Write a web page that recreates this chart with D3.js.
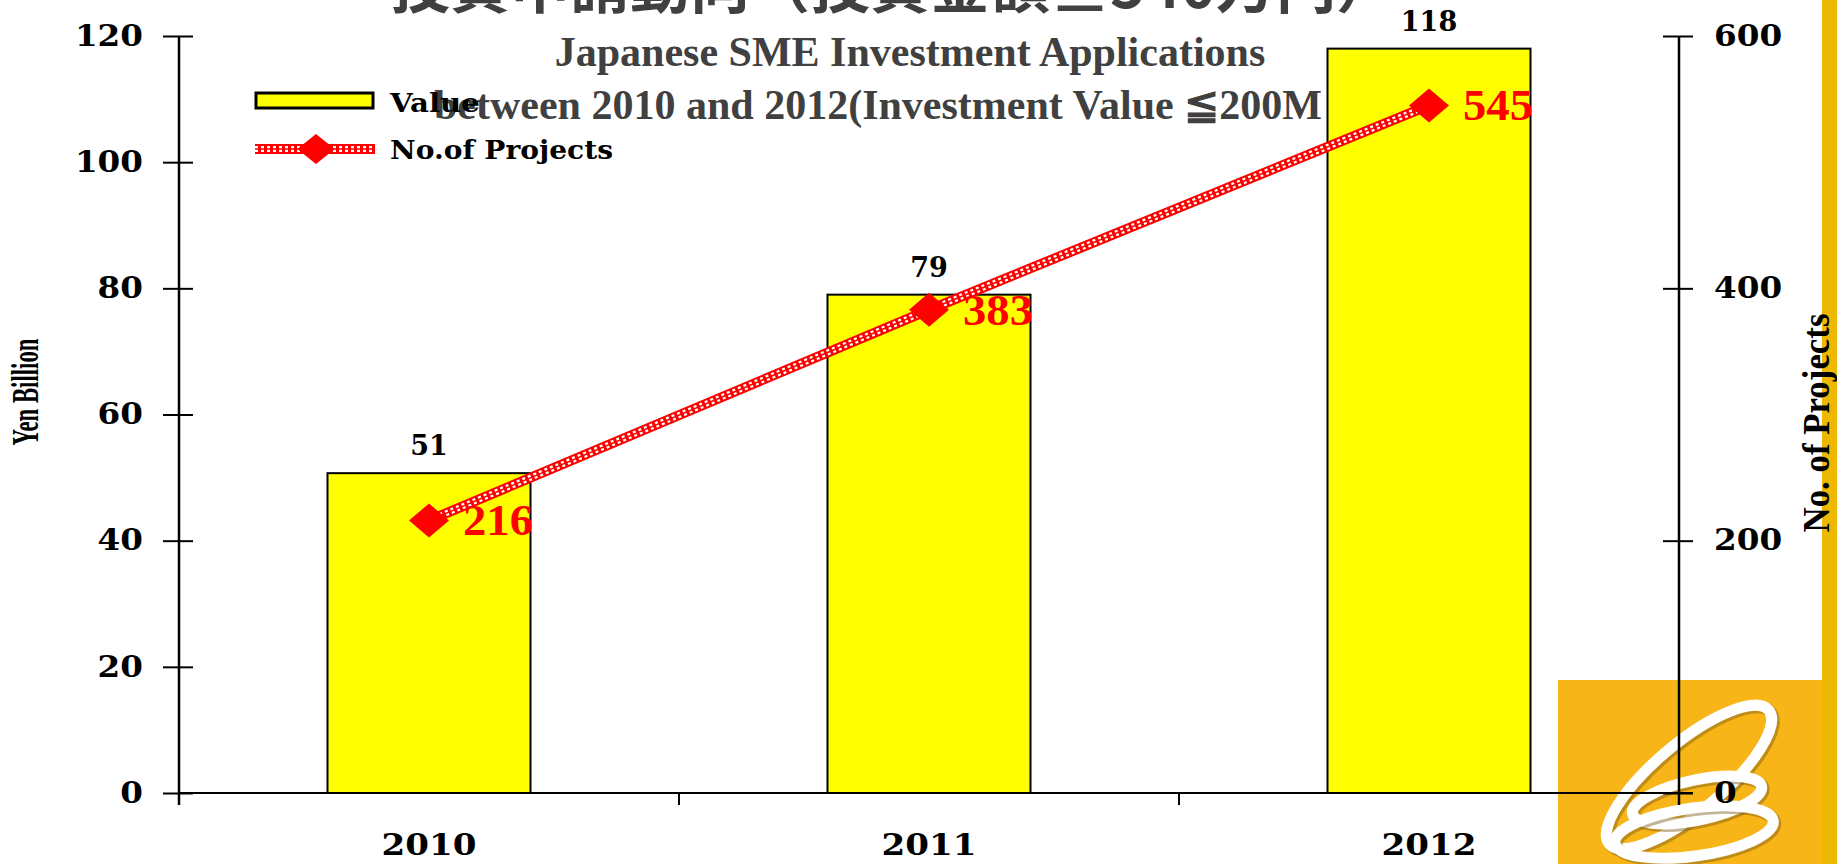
<!DOCTYPE html>
<html>
<head>
<meta charset="utf-8">
<script src="https://cdn.jsdelivr.net/npm/d3@7"></script>
<style>
  html, body { margin: 0; padding: 0; background: #fff; overflow: hidden; }
  svg { display: block; }
</style>
</head>
<body>
<div id="chart"></div>
<script>
// data
const years = ['2010', '2011', '2012'];
const values = [50.7, 79, 118];          // Yen Billion
const projects = [216, 383, 545];        // No. of projects
const leftTicks = [0, 20, 40, 60, 80, 100, 120];
const rightTicks = [0, 200, 400, 600];

const W = 1837, H = 864;
const margin = { top: 36, right: 158, bottom: 71, left: 179 };
const width = W - margin.left - margin.right;
const height = H - margin.top - margin.bottom;

const serifWide = '"DejaVu Serif", serif';
const serifTimes = '"Liberation Serif", "Times New Roman", serif';

const svg = d3.select('#chart').append('svg')
    .attr('width', W)
    .attr('height', H);

// background decoration (slide theme)
svg.append('rect').attr('x', 1822).attr('y', 0).attr('width', 15).attr('height', H).attr('fill', '#eeb800');
svg.append('rect').attr('x', 1558).attr('y', 680).attr('width', 264).attr('height', 184).attr('fill', '#f8b518');

// logo swirl
const logo = svg.append('g').attr('fill', 'none');
const loops = [
    { cx: 1689, cy: 777, rx: 104, ry: 34, rot: -40 },
    { cx: 1697, cy: 800, rx: 66, ry: 20, rot: -12 },
    { cx: 1694, cy: 832, rx: 80, ry: 24, rot: -8 }
];
loops.forEach(l => {
    logo.append('ellipse')
        .attr('transform', `translate(${l.cx + 2},${l.cy + 2}) rotate(${l.rot})`)
        .attr('rx', l.rx).attr('ry', l.ry)
        .attr('stroke', '#7a5a18').attr('stroke-width', 12).attr('opacity', 0.45);
    logo.append('ellipse')
        .attr('transform', `translate(${l.cx},${l.cy}) rotate(${l.rot})`)
        .attr('rx', l.rx).attr('ry', l.ry)
        .attr('stroke', '#fff').attr('stroke-width', 11);
});

// titles (sit behind the bars)
svg.append('text')
    .attr('x', 893).attr('y', 8)
    .attr('text-anchor', 'middle')
    .style('font-family', '"Noto Sans CJK JP", sans-serif')
    .style('font-weight', 700)
    .style('font-size', '60px')
    .attr('fill', '#404040')
    .text('投資申請動向（投資金額≦540万円）');

svg.append('text')
    .attr('x', 910).attr('y', 66)
    .attr('text-anchor', 'middle')
    .style('font-family', serifTimes)
    .style('font-weight', 700)
    .style('font-size', '42px')
    .attr('fill', '#404040')
    .text('Japanese SME Investment Applications');

svg.append('text')
    .attr('x', 434).attr('y', 119)
    .style('font-family', serifTimes)
    .style('font-weight', 700)
    .style('font-size', '42px')
    .attr('fill', '#404040')
    .text('between 2010 and 2012(Investment Value ≦200M Yen)');

const g = svg.append('g')
    .attr('transform', `translate(${margin.left},${margin.top})`);

// scales
const x = d3.scaleBand()
    .domain(years)
    .range([0, width])
    .paddingInner(0.594)
    .paddingOuter(0.297);

const yLeft = d3.scaleLinear().domain([0, 120]).range([height, 0]);
const yRight = d3.scaleLinear().domain([0, 600]).range([height, 0]);

// legend
const legend = svg.append('g');
legend.append('rect')
    .attr('x', 256).attr('y', 93).attr('width', 117).attr('height', 15)
    .attr('fill', '#ffff00').attr('stroke', '#000').attr('stroke-width', 3);
legend.append('text')
    .attr('x', 390).attr('y', 112)
    .attr('textLength', 90).attr('lengthAdjust', 'spacingAndGlyphs')
    .style('font-family', serifWide).style('font-weight', 700).style('font-size', '26px')
    .attr('fill', '#000').text('Value');

function patternLine(sel, pathD) {
    sel.append('path').attr('d', pathD).attr('fill', 'none')
        .attr('stroke', '#ff0000').attr('stroke-width', 10);
    sel.append('path').attr('d', pathD).attr('fill', 'none')
        .attr('stroke', '#fff').attr('stroke-width', 6).attr('stroke-dasharray', '3 3');
    sel.append('path').attr('d', pathD).attr('fill', 'none')
        .attr('stroke', '#ff0000').attr('stroke-width', 1.5);
}

const diamond = d3.symbol().type(d3.symbolSquare).size(700);

patternLine(legend, 'M255,149L375,149');
legend.append('path')
    .attr('d', diamond())
    .attr('transform', 'translate(316,149) scale(1,0.8) rotate(45)')
    .attr('fill', '#ff0000');
legend.append('text')
    .attr('x', 390).attr('y', 159)
    .attr('textLength', 223).attr('lengthAdjust', 'spacingAndGlyphs')
    .style('font-family', serifWide).style('font-weight', 700).style('font-size', '26px')
    .attr('fill', '#000').text('No.of Projects');

// bars
g.selectAll('rect.bar')
    .data(values)
    .join('rect')
    .attr('class', 'bar')
    .attr('x', (d, i) => x(years[i]))
    .attr('y', d => yLeft(d))
    .attr('width', x.bandwidth())
    .attr('height', d => height - yLeft(d))
    .attr('fill', '#ffff00')
    .attr('stroke', '#000')
    .attr('stroke-width', 2);

g.selectAll('text.bar-label')
    .data(values)
    .join('text')
    .attr('class', 'bar-label')
    .attr('x', (d, i) => x(years[i]) + x.bandwidth() / 2)
    .attr('y', d => yLeft(d) - 18)
    .attr('text-anchor', 'middle')
    .style('font-family', serifWide).style('font-weight', 700).style('font-size', '27px')
    .attr('fill', '#000')
    .text(d => d3.format('.0f')(d));

// axes
const leftAxis = g.append('g')
    .call(d3.axisLeft(yLeft).tickValues(leftTicks).tickSize(16).tickPadding(20).tickFormat(d3.format('d')));
leftAxis.selectAll('.tick line').attr('x2', -16).attr('x1', 14);

const rightAxis = g.append('g')
    .attr('transform', `translate(${width},0)`)
    .call(d3.axisRight(yRight).tickValues(rightTicks).tickSize(14).tickPadding(21).tickFormat(d3.format('d')));
rightAxis.selectAll('.tick line').attr('x1', -16).attr('x2', 14);

[leftAxis, rightAxis].forEach(a => {
    a.select('.domain').remove();
    a.selectAll('.tick line').attr('stroke', '#000').attr('stroke-width', 2);
    a.selectAll('text')
        .style('font-family', serifWide).style('font-weight', 700).style('font-size', '29px')
        .attr('fill', '#000')
        .attr('textLength', function () { return this.textContent.length * 22.7; })
        .attr('lengthAdjust', 'spacingAndGlyphs');
});

// axis spines
g.append('line').attr('x1', 0).attr('x2', 0).attr('y1', 0).attr('y2', height + 12)
    .attr('stroke', '#000').attr('stroke-width', 2.5);
g.append('line').attr('x1', width).attr('x2', width).attr('y1', 0).attr('y2', height + 12)
    .attr('stroke', '#000').attr('stroke-width', 2.5);
g.append('line').attr('x1', 0).attr('x2', width + 14).attr('y1', height).attr('y2', height)
    .attr('stroke', '#000').attr('stroke-width', 2);

// category boundary ticks and labels
const step = x.step();
const bounds = years.map(d => x(d) + x.bandwidth() / 2 - step / 2).concat([width]);
g.selectAll('line.xtick')
    .data(bounds.slice(1, -1))
    .join('line')
    .attr('class', 'xtick')
    .attr('x1', d => d).attr('x2', d => d)
    .attr('y1', height).attr('y2', height + 12)
    .attr('stroke', '#000').attr('stroke-width', 2);

g.selectAll('text.xlabel')
    .data(years)
    .join('text')
    .attr('class', 'xlabel')
    .attr('x', d => x(d) + x.bandwidth() / 2)
    .attr('y', height + 62)
    .attr('text-anchor', 'middle')
    .attr('textLength', 95).attr('lengthAdjust', 'spacingAndGlyphs')
    .style('font-family', serifWide).style('font-weight', 700).style('font-size', '30px')
    .attr('fill', '#000')
    .text(d => d);

// projects line
const line = d3.line()
    .x((d, i) => x(years[i]) + x.bandwidth() / 2)
    .y(d => yRight(d));
patternLine(g, line(projects));

g.selectAll('path.marker')
    .data(projects)
    .join('path')
    .attr('class', 'marker')
    .attr('d', diamond.size(800)())
    .attr('transform', (d, i) => `translate(${x(years[i]) + x.bandwidth() / 2},${yRight(d)}) scale(1,0.85) rotate(45)`)
    .attr('fill', '#ff0000');

g.selectAll('text.proj-label')
    .data(projects)
    .join('text')
    .attr('class', 'proj-label')
    .attr('x', (d, i) => x(years[i]) + x.bandwidth() / 2 + 34)
    .attr('y', d => yRight(d) + 15)
    .attr('textLength', 70).attr('lengthAdjust', 'spacingAndGlyphs')
    .style('font-family', serifTimes).style('font-weight', 700).style('font-size', '44px')
    .attr('fill', '#ff0000')
    .text(d => d);

// axis titles
svg.append('text')
    .attr('transform', 'translate(38,392) rotate(-90)')
    .attr('text-anchor', 'middle')
    .attr('textLength', 107).attr('lengthAdjust', 'spacingAndGlyphs')
    .style('font-family', serifTimes).style('font-weight', 700).style('font-size', '38px')
    .attr('fill', '#000')
    .text('Yen Billion');

svg.append('text')
    .attr('transform', 'translate(1829,423) rotate(-90)')
    .attr('text-anchor', 'middle')
    .attr('textLength', 219).attr('lengthAdjust', 'spacingAndGlyphs')
    .style('font-family', serifTimes).style('font-weight', 700).style('font-size', '38px')
    .attr('fill', '#000')
    .text('No. of Projects');
</script>
</body>
</html>
